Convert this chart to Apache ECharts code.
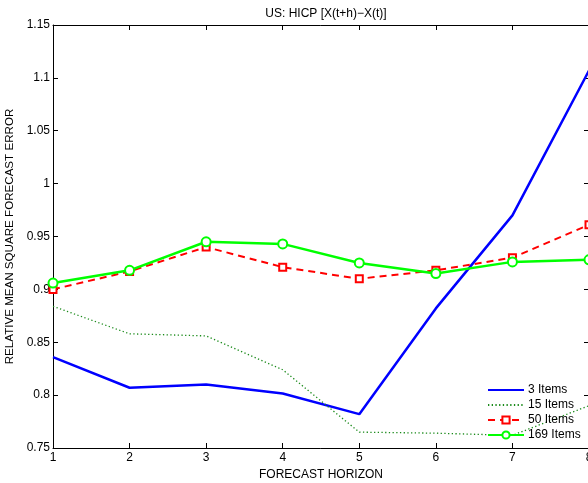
<!DOCTYPE html>
<html>
<head>
<meta charset="utf-8">
<script src="https://cdn.jsdelivr.net/npm/echarts@6/dist/echarts.min.js"></script>
<style>
  html, body { margin: 0; padding: 0; background: #fff; }
  #chart { width: 588px; height: 483px; }
</style>
</head>
<body>
<div id="chart"></div>
<script>
// Forecast horizons (x) and relative MSFE per number of items
const horizons = [1, 2, 3, 4, 5, 6, 7, 8];
const items3   = [0.836, 0.807, 0.810, 0.8015, 0.782, 0.882, 0.970, 1.107];
const items15  = [0.884, 0.858, 0.856, 0.824, 0.765, 0.764, 0.762, 0.790];
const items50  = [0.900, 0.917, 0.940, 0.921, 0.910, 0.918, 0.930, 0.961];
const items169 = [0.906, 0.918, 0.945, 0.943, 0.925, 0.915, 0.926, 0.928];
const seriesNames = ['3 Items', '15 Items', '50 Items', '169 Items'];
const yTicks = { min: 0.75, max: 1.15, step: 0.05 };

const pairs = ys => horizons.map((h, i) => [h, ys[i]]);
const FONT = '"Liberation Sans", Arial, Helvetica, sans-serif';
const FS = 12;
const HIDDEN = 'rgba(0,0,0,0)';

const chart = echarts.init(document.getElementById('chart'), null, { renderer: 'canvas' });

const boxAxisLine = { show: true, onZero: false, lineStyle: { color: '#000', width: 1 } };
const boxTick = { show: true, inside: true, length: 5, lineStyle: { color: '#000', width: 1 } };

chart.setOption({
  backgroundColor: '#fff',
  animation: false,
  title: {
    text: 'US: HICP [X(t+h)\u2212X(t)]',
    left: 321,
    textAlign: 'center',
    top: 3,
    textStyle: { fontFamily: FONT, fontSize: FS, fontWeight: 'normal', color: '#000' }
  },
  grid: { left: 53, top: 25, right: -1, bottom: 35, containLabel: false, outerBoundsMode: 'none' },
  legend: {
    orient: 'vertical',
    left: 487,
    top: 382,
    padding: [2, 5, 2, 0],
    itemWidth: 36,
    itemHeight: 9,
    itemGap: 3,
    textStyle: { fontFamily: FONT, fontSize: FS, color: '#000', padding: [0, 0, 0, -1] },
    data: [
      // plain lines: keep the line sample, hide the marker
      { name: seriesNames[0], itemStyle: { color: HIDDEN, borderColor: HIDDEN, borderWidth: 0 } },
      { name: seriesNames[1], itemStyle: { color: HIDDEN, borderColor: HIDDEN, borderWidth: 0 } },
      { name: seriesNames[2] },
      { name: seriesNames[3] }
    ]
  },
  xAxis: [
    {
      type: 'value', min: 1, max: 8, interval: 1, position: 'bottom',
      name: 'FORECAST HORIZON', nameLocation: 'middle', nameGap: 21,
      nameTextStyle: { fontFamily: FONT, fontSize: FS, color: '#000' },
      axisLine: boxAxisLine, axisTick: boxTick,
      axisLabel: { fontFamily: FONT, fontSize: FS, color: '#000', margin: 4 },
      splitLine: { show: false }
    },
    {
      type: 'value', min: 1, max: 8, interval: 1, position: 'top',
      axisLine: boxAxisLine, axisTick: boxTick,
      axisLabel: { show: false }, splitLine: { show: false }
    }
  ],
  yAxis: [
    {
      type: 'value', min: yTicks.min, max: yTicks.max, interval: yTicks.step, position: 'left',
      name: 'RELATIVE MEAN SQUARE FORECAST ERROR', nameLocation: 'middle', nameGap: 37,
      nameRotate: 90,
      nameTextStyle: { fontFamily: FONT, fontSize: 11.6, color: '#000' },
      axisLine: boxAxisLine, axisTick: boxTick,
      axisLabel: { fontFamily: FONT, fontSize: FS, color: '#000', margin: 3 },
      splitLine: { show: false }
    },
    {
      type: 'value', min: yTicks.min, max: yTicks.max, interval: yTicks.step, position: 'right',
      axisLine: boxAxisLine, axisTick: boxTick,
      axisLabel: { show: false }, splitLine: { show: false }
    }
  ],
  series: [
    {
      name: seriesNames[0], type: 'line', data: pairs(items3),
      symbol: 'none', color: '#0000ff',
      lineStyle: { color: '#0000ff', width: 2.5 }
    },
    {
      name: seriesNames[1], type: 'line', data: pairs(items15),
      symbol: 'none', color: '#1a8a1a',
      lineStyle: { color: '#1a8a1a', width: 1.3, type: [1.3, 2.4] }
    },
    {
      name: seriesNames[2], type: 'line', data: pairs(items50),
      symbol: 'emptyRect', symbolSize: 7, color: '#ff0000',
      lineStyle: { color: '#ff0000', width: 2, type: [7, 5] },
      itemStyle: { color: '#ff0000', borderColor: '#ff0000', borderWidth: 2 }
    },
    {
      name: seriesNames[3], type: 'line', data: pairs(items169),
      symbol: 'emptyCircle', symbolSize: 9, color: '#00ff00',
      lineStyle: { color: '#00ff00', width: 2.5 },
      itemStyle: { color: '#00ff00', borderColor: '#00ff00', borderWidth: 2 }
    }
  ]
});
</script>
</body>
</html>
